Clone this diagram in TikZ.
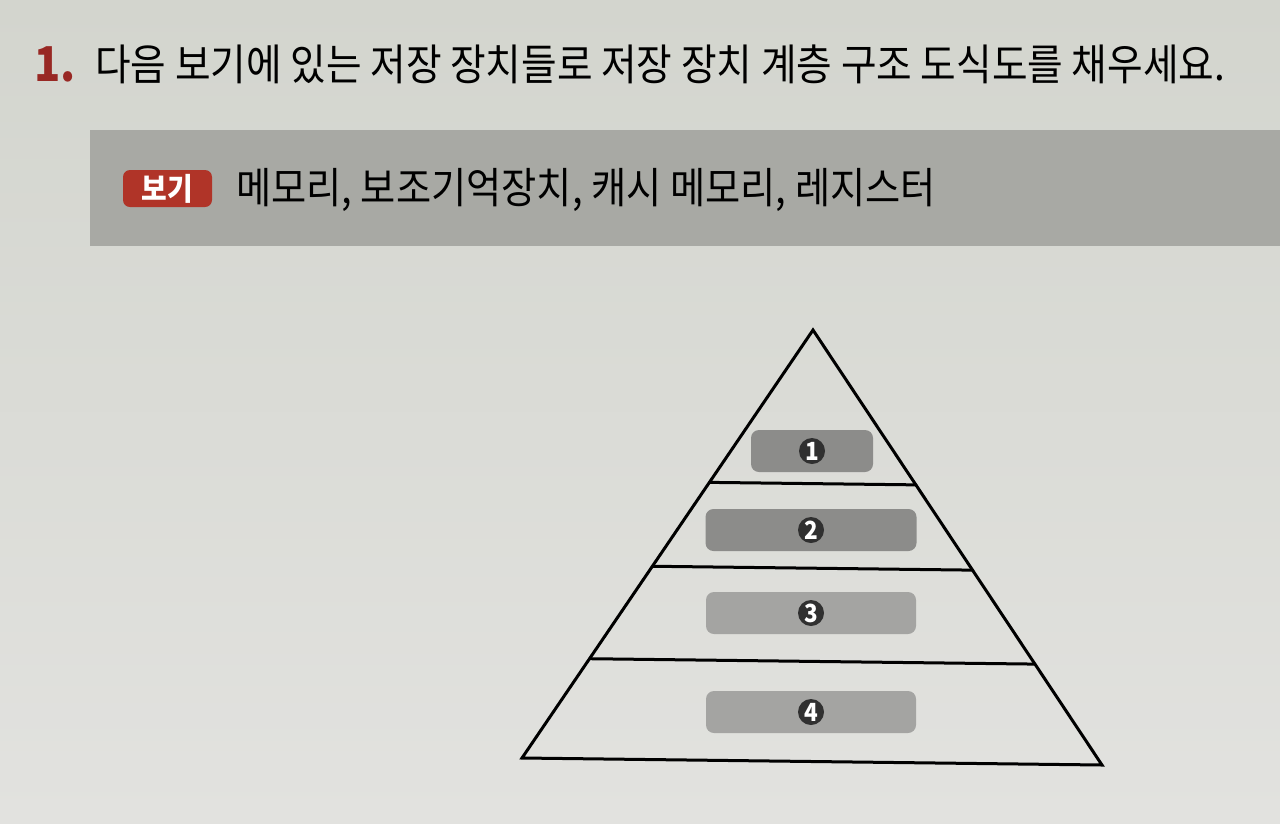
\documentclass[tikz,border=0pt]{standalone}
\usepackage{fontspec}
\usepackage{xcolor}
\setmainfont{Noto Sans CJK KR}
\newfontfamily\kr[FakeStretch=0.9]{Noto Sans CJK KR}
\usetikzlibrary{calc}

\definecolor{papertop}{RGB}{211,213,206}
\definecolor{paperbot}{RGB}{226,226,223}
\definecolor{bandgray}{RGB}{168,169,164}
\definecolor{numred}{RGB}{152,40,36}
\definecolor{badgered}{RGB}{176,52,40}
\definecolor{slotdark}{RGB}{140,140,138}
\definecolor{slotlight}{RGB}{164,164,162}
\definecolor{dotgray}{RGB}{48,48,48}

\tikzset{
	slot/.style={rounded corners=8pt, minimum height=42pt, inner sep=0pt},
	dot/.style={circle, fill=dotgray, minimum size=26pt, inner sep=0pt, text=white, font=\kr\bfseries\fontsize{25}{25}\selectfont},
	level/.style={line width=3pt, line cap=round}
}

\begin{document}
\begin{tikzpicture}[x=1pt, y=-1pt]
	\useasboundingbox (0,0) rectangle (1280,823);
	\shade[top color=papertop, bottom color=paperbot] (0,0) rectangle (1280,823);
	\fill[bandgray] (90,130) rectangle (1280,246);

	\begin{scope}[every node/.style={inner sep=0pt}]
		\node[anchor=west, text=numred, font=\kr\bfseries\fontsize{48}{48}\selectfont] (qnum) at (34,64) {1.};
		\node[anchor=west, font=\kr\fontsize{43}{43}\selectfont] (question) at (95,64) {다음 보기에 있는 저장 장치들로 저장 장치 계층 구조 도식도를 채우세요.};

		\node[fill=badgered, rounded corners=7pt, minimum width=89pt, minimum height=37pt, text=white, font=\kr\bfseries\fontsize{31}{31}\selectfont] (bogi) at (167.5,188.5) {보기};
		\node[anchor=west, font=\kr\fontsize{42.5}{42.5}\selectfont] (choices) at (236,190) {메모리, 보조기억장치, 캐시 메모리, 레지스터};
	\end{scope}

	\coordinate (apex) at (813,330);
	\coordinate (baseL) at (522,758);
	\coordinate (baseR) at (1102,765);

	\foreach \t/\n in {0.356/a, 0.552/b, 0.768/c} {
		\coordinate (l\n) at ($(apex)!\t!(baseL)$);
		\coordinate (r\n) at ($(apex)!\t!(baseR)$);
	}

	\begin{scope}
		\draw[level, line join=miter] (apex) -- (baseL) -- (baseR) -- cycle;
		\draw[level] (la) -- (ra);
		\draw[level] (lb) -- (rb);
		\draw[level] (lc) -- (rc);
	\end{scope}

	\begin{scope}
		\node[slot, fill=slotdark, minimum width=122pt] (slot1) at (812,451) {};
		\node[slot, fill=slotdark, minimum width=211pt] (slot2) at (811,530) {};
		\node[slot, fill=slotlight, minimum width=210pt] (slot3) at (811,613) {};
		\node[slot, fill=slotlight, minimum width=210pt] (slot4) at (811,712) {};

		\node[dot] (num1) at (slot1) {1};
		\node[dot] (num2) at (slot2) {2};
		\node[dot] (num3) at (slot3) {3};
		\node[dot] (num4) at (slot4) {4};
	\end{scope}
\end{tikzpicture}
\end{document}
